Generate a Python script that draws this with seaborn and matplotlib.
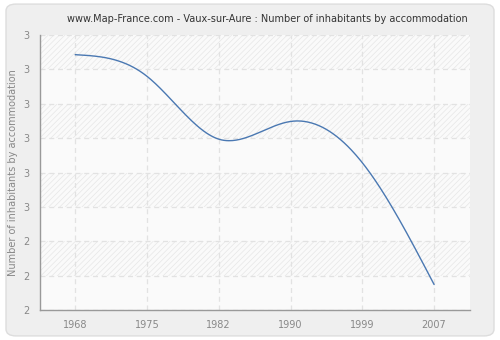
import numpy as np
import pandas as pd
import seaborn as sns
import matplotlib
matplotlib.use("Agg")
import matplotlib.pyplot as plt
from matplotlib.patches import FancyBboxPatch
from matplotlib.ticker import FuncFormatter

years = ["1968", "1975", "1982", "1990", "1999", "2007"]
values = [3.30, 3.19, 2.87, 2.96, 2.75, 2.13]
y_ticks = [2.0, 2.175, 2.35, 2.525, 2.7, 2.875, 3.05, 3.225, 3.4]
title = "www.Map-France.com - Vaux-sur-Aure : Number of inhabitants by accommodation"
ylabel = "Number of inhabitants by accommodation"


def natural_spline(x, y, n=300):
    x = np.asarray(x, float); y = np.asarray(y, float)
    k = len(x); h = np.diff(x)
    A = np.zeros((k, k)); b = np.zeros(k)
    A[0, 0] = A[-1, -1] = 1
    for i in range(1, k - 1):
        A[i, i - 1] = h[i - 1]; A[i, i] = 2 * (h[i - 1] + h[i]); A[i, i + 1] = h[i]
        b[i] = 3 * ((y[i + 1] - y[i]) / h[i] - (y[i] - y[i - 1]) / h[i - 1])
    c = np.linalg.solve(A, b)
    xs = np.linspace(x[0], x[-1], n); ys = np.empty_like(xs)
    for j, xv in enumerate(xs):
        i = min(np.searchsorted(x, xv, side="right") - 1, k - 2)
        d = xv - x[i]
        bi = (y[i + 1] - y[i]) / h[i] - h[i] * (2 * c[i] + c[i + 1]) / 3
        di = (c[i + 1] - c[i]) / (3 * h[i])
        ys[j] = y[i] + bi * d + c[i] * d ** 2 + di * d ** 3
    return xs, ys


sns.set_style("white")
plt.rcParams["font.family"] = ["DejaVu Sans"]
plt.rcParams["hatch.linewidth"] = 0.5

fig = plt.figure(figsize=(5, 3.4), dpi=100)
fig.patch.set_facecolor("white")
fig.patches.append(FancyBboxPatch((0.012, 0.012), 0.976, 0.976, boxstyle="round,pad=0,rounding_size=0.02",
                                  transform=fig.transFigure, facecolor="#efefef", edgecolor="#dddddd",
                                  linewidth=1, zorder=-10))
ax = fig.add_axes([0.08, 0.088, 0.86, 0.809])
ax.set_facecolor("#fafafa")

xpos = np.arange(len(years))
xs, ys = natural_spline(xpos, values)
df = pd.DataFrame({"x": xs, "y": ys})

ax.set_xlim(-0.49, 5.5)
ax.set_ylim(y_ticks[0], y_ticks[-1])

for i in range(len(y_ticks) - 1):
    if (len(y_ticks) - 2 - i) % 2 == 0:
        ax.axhspan(y_ticks[i], y_ticks[i + 1], facecolor="#fafafa", edgecolor="#e6e6e6",
                   hatch="//////", linewidth=0, zorder=0)

sns.lineplot(data=df, x="x", y="y", ax=ax, color="#4a78b2", linewidth=1.0, zorder=5)

ax.set_xticks(xpos)
ax.set_xticklabels(years)
ax.set_yticks(y_ticks)
ax.yaxis.set_major_formatter(FuncFormatter(lambda v, p: f"{v:.0f}"))
ax.grid(True, color="#e2e2e2", linestyle=(0, (4, 3)), linewidth=0.9, zorder=1)
ax.set_axisbelow(True)
for s in ["top", "right"]:
    ax.spines[s].set_visible(False)
for s in ["left", "bottom"]:
    ax.spines[s].set_color("#999999")
    ax.spines[s].set_linewidth(1)
ax.tick_params(axis="both", colors="#999999", labelcolor="#888888", labelsize=7, length=4, width=1, direction="out")
ax.set_xlabel("")
ax.set_ylabel(ylabel, color="#888888", fontsize=7)
fig.text(0.534, 0.945, title, ha="center", va="center", fontsize=7, color="#333333")

fig.savefig("out.png", dpi=100, facecolor=fig.get_facecolor())
